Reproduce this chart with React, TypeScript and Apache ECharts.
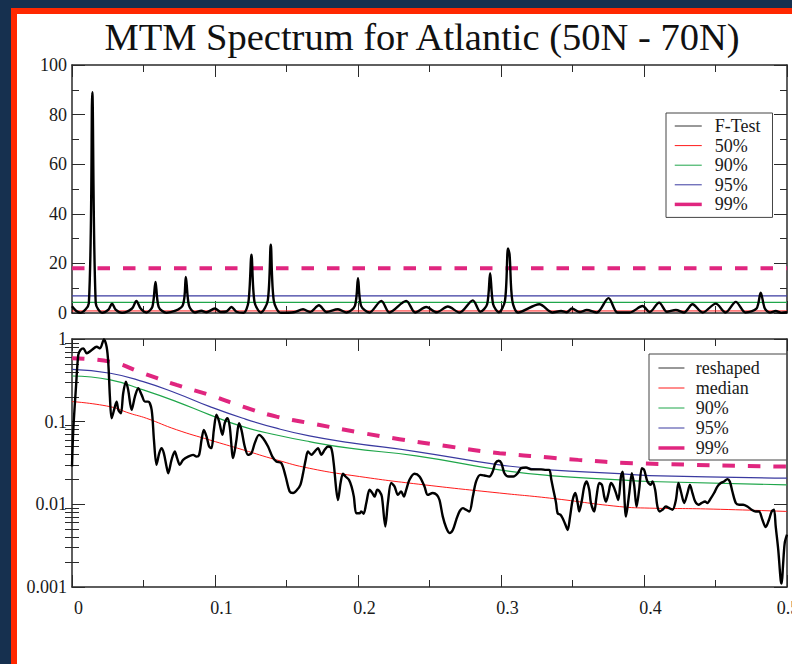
import React, { useEffect, useRef } from "react";
import * as echarts from "echarts";

// ---------- data ----------
const titleText = "MTM Spectrum for Atlantic (50N - 70N)";
const xTicks = [0, 0.1, 0.2, 0.3, 0.4, 0.5];

// F-test, [frequency, value]
const fTest: number[][] = [
  [0, 2.7], [0.003, 0.8], [0.006, 0.1],
  [0.0118, 4], [0.0142, 89], [0.0166, 4], [0.021, 0.1],
  [0.0255, 1.4], [0.028, 3.8], [0.0305, 1.4], [0.035, 0.1],
  [0.042, 1.8], [0.045, 4.9], [0.048, 1.8], [0.052, 0.2],
  [0.0562, 2.5], [0.0584, 12.5], [0.0606, 2.5], [0.066, 0.1],
  [0.0774, 3], [0.0796, 14.5], [0.0818, 3], [0.086, 0.2],
  [0.0905, 0.9], [0.094, 0.3], [0.0999, 1.8], [0.104, 0.4], [0.108, 0.6],
  [0.1115, 2.4], [0.115, 0.5], [0.12, 0.1],
  [0.1234, 4.5], [0.1255, 23.5], [0.1276, 4.5], [0.132, 0.2],
  [0.1369, 5], [0.139, 27.5], [0.1411, 5], [0.146, 0.1],
  [0.155, 0.3], [0.1616, 1.5], [0.1665, 0.4], [0.1727, 3.1], [0.178, 0.4],
  [0.186, 1.5], [0.192, 0.2],
  [0.1979, 3], [0.2, 14], [0.2021, 3], [0.208, 0.2],
  [0.2163, 4.9], [0.222, 0.2], [0.2337, 4.9], [0.24, 0.2],
  [0.2477, 2.4], [0.255, 0.3], [0.2628, 2.6], [0.271, 0.2],
  [0.2803, 5.1], [0.2855, 0.5], [0.2903, 3.5], [0.2924, 16], [0.2945, 3.5], [0.2985, 0.3],
  [0.3028, 5], [0.3049, 26], [0.306, 23.5], [0.3079, 5], [0.312, 0.2],
  [0.3268, 3.5], [0.336, 0.2], [0.342, 0.8], [0.346, 0.3], [0.3496, 1.8], [0.355, 0.4],
  [0.36, 1.2], [0.367, 0.2], [0.3752, 6], [0.3815, 0.2], [0.39, 0.2],
  [0.399, 2.8], [0.404, 0.4], [0.4106, 4.2], [0.416, 0.5], [0.4223, 1.2], [0.428, 0.2],
  [0.4339, 3.5], [0.441, 0.2], [0.4502, 3.8], [0.457, 0.2], [0.4642, 4.5], [0.471, 0.2],
  [0.4787, 1.8], [0.4816, 8.2], [0.4845, 1.8], [0.488, 0.2], [0.4921, 0.8], [0.496, 0.1], [0.5, 0.3],
];

// F-test confidence levels
const fLevel50 = 0.83;
const fLevel90 = 4.32;
const fLevel95 = 6.94;
const fLevel99 = 18.0;

// reshaped spectrum, [frequency, power]
const reshaped: number[][] = [
  [0, 0.0287], [0.0009, 0.0796], [0.0028, 0.265], [0.0044, 0.641], [0.0059, 0.736],
  [0.0079, 0.771], [0.0103, 0.672], [0.0138, 0.736], [0.0172, 0.807], [0.0196, 0.771],
  [0.0223, 0.99], [0.0242, 0.807], [0.0254, 0.508], [0.0265, 0.201], [0.0277, 0.11],
  [0.03, 0.152], [0.0312, 0.175], [0.0324, 0.139], [0.0342, 0.126], [0.0358, 0.221],
  [0.0377, 0.305], [0.0393, 0.242], [0.0417, 0.139], [0.044, 0.201], [0.0463, 0.254],
  [0.0487, 0.211], [0.051, 0.175], [0.0533, 0.175], [0.0557, 0.139], [0.0573, 0.0603],
  [0.0591, 0.0301], [0.061, 0.0416], [0.0626, 0.0478], [0.0642, 0.0416], [0.0661, 0.0287],
  [0.0673, 0.0238], [0.0696, 0.0345], [0.0719, 0.0435], [0.0735, 0.0362], [0.0754, 0.0301],
  [0.0777, 0.0345], [0.0812, 0.0378], [0.0847, 0.0397], [0.0871, 0.0378], [0.0889, 0.0397],
  [0.0906, 0.0603], [0.0922, 0.0796], [0.0941, 0.066], [0.0959, 0.05], [0.0975, 0.0478],
  [0.0992, 0.0796], [0.101, 0.121], [0.1029, 0.1], [0.1052, 0.0692], [0.1068, 0.0958],
  [0.1087, 0.11], [0.1103, 0.0872], [0.1127, 0.0362], [0.115, 0.0603], [0.1168, 0.0958],
  [0.1185, 0.0796], [0.1208, 0.05], [0.1231, 0.0397], [0.1255, 0.0416], [0.1278, 0.055],
  [0.1308, 0.0692], [0.1336, 0.063], [0.1371, 0.05], [0.1401, 0.0378], [0.1429, 0.033],
  [0.1464, 0.0315], [0.1494, 0.0217], [0.1522, 0.0143], [0.1546, 0.0137], [0.1574, 0.015],
  [0.1597, 0.0172], [0.1616, 0.0238], [0.1634, 0.0345], [0.165, 0.0435], [0.1674, 0.0397],
  [0.1697, 0.0435], [0.172, 0.0478], [0.1744, 0.0397], [0.1767, 0.0456], [0.179, 0.05],
  [0.1813, 0.0478], [0.183, 0.0315], [0.1848, 0.015], [0.186, 0.0113], [0.1878, 0.0181],
  [0.1895, 0.0234], [0.1913, 0.0217], [0.1937, 0.0198], [0.1955, 0.0164], [0.1971, 0.0124],
  [0.1988, 0.0078], [0.2011, 0.0078], [0.2023, 0.0082], [0.2039, 0.0077], [0.2058, 0.0104],
  [0.2081, 0.015], [0.21, 0.0137], [0.2116, 0.0124], [0.2135, 0.015], [0.2151, 0.0143],
  [0.2167, 0.0124], [0.2191, 0.0054], [0.2209, 0.0104], [0.2232, 0.0181], [0.2256, 0.0164],
  [0.2279, 0.013], [0.2302, 0.0143], [0.2321, 0.0124], [0.2337, 0.015], [0.236, 0.0198],
  [0.2395, 0.0234], [0.243, 0.0217], [0.2465, 0.0164], [0.2488, 0.013], [0.2523, 0.0137],
  [0.2551, 0.013], [0.257, 0.0113], [0.2593, 0.0071], [0.2617, 0.0052], [0.264, 0.0045],
  [0.2663, 0.0049], [0.2687, 0.0065], [0.271, 0.0082], [0.2733, 0.009], [0.2756, 0.0086],
  [0.2779, 0.0082], [0.2803, 0.0124], [0.2826, 0.0189], [0.2856, 0.0227], [0.2884, 0.0223],
  [0.2919, 0.0217], [0.2942, 0.0249], [0.2961, 0.0315], [0.2984, 0.0336], [0.3003, 0.0315],
  [0.3024, 0.0238], [0.3054, 0.0217], [0.3087, 0.0217], [0.3117, 0.0238], [0.314, 0.0274],
  [0.3175, 0.0279], [0.321, 0.0265], [0.3245, 0.0265], [0.328, 0.0265], [0.3315, 0.0261],
  [0.3338, 0.0261], [0.3352, 0.0198], [0.3366, 0.015], [0.3385, 0.0104], [0.3396, 0.0078],
  [0.3415, 0.0075], [0.3431, 0.0068], [0.345, 0.0057], [0.3466, 0.0049], [0.3483, 0.0071],
  [0.3501, 0.0113], [0.352, 0.0137], [0.3536, 0.0104], [0.3547, 0.0082], [0.3566, 0.0113],
  [0.3582, 0.0164], [0.3599, 0.0189], [0.3617, 0.015], [0.3629, 0.0104], [0.3652, 0.0082],
  [0.3668, 0.0124], [0.3687, 0.0181], [0.3706, 0.0172], [0.3722, 0.0124], [0.3734, 0.0108],
  [0.3752, 0.0137], [0.3769, 0.0181], [0.3787, 0.0164], [0.3804, 0.0137], [0.382, 0.0113],
  [0.3839, 0.0217], [0.385, 0.0249], [0.3874, 0.0071], [0.3897, 0.0137], [0.3915, 0.0238],
  [0.3931, 0.0172], [0.3948, 0.0094], [0.3966, 0.015], [0.3985, 0.0274], [0.4001, 0.0261],
  [0.4024, 0.0189], [0.4048, 0.0172], [0.4059, 0.0189], [0.4078, 0.015], [0.4094, 0.0094],
  [0.4111, 0.0082], [0.4129, 0.0086], [0.4153, 0.0094], [0.4176, 0.009], [0.4199, 0.0086],
  [0.4223, 0.0113], [0.4241, 0.0181], [0.4258, 0.0143], [0.4281, 0.0104], [0.4304, 0.0137],
  [0.4321, 0.0172], [0.4339, 0.0137], [0.4358, 0.0108], [0.4381, 0.0099], [0.4404, 0.0104],
  [0.4427, 0.0108], [0.4443, 0.0104], [0.4467, 0.0118], [0.449, 0.0137], [0.4513, 0.0164],
  [0.4537, 0.0181], [0.456, 0.0189], [0.4583, 0.0202], [0.46, 0.0189], [0.4618, 0.0143],
  [0.4642, 0.0104], [0.4665, 0.0099], [0.4693, 0.0099], [0.4723, 0.0094], [0.4753, 0.0086],
  [0.4781, 0.0082], [0.4804, 0.0082], [0.4828, 0.0065], [0.4851, 0.0053], [0.4874, 0.0065],
  [0.4893, 0.0082], [0.4909, 0.0086], [0.4921, 0.0054], [0.4939, 0.0028], [0.4956, 0.0012],
  [0.4963, 0.0011], [0.4972, 0.0018], [0.4984, 0.0034], [0.5, 0.0043],
];

// background spectrum confidence curves, [frequency, power]
const median: number[][] = [
  [0, 0.175], [0.0265, 0.152], [0.0405, 0.126], [0.052, 0.11], [0.073, 0.08], [0.0964, 0.06],
  [0.1195, 0.0457], [0.143, 0.0345], [0.166, 0.0273], [0.201, 0.0217], [0.2465, 0.0172],
  [0.299, 0.0137], [0.334, 0.0119], [0.3827, 0.0094], [0.4036, 0.009], [0.443, 0.0088], [0.5, 0.0082],
];
const conf90: number[][] = [
  [0, 0.357], [0.0268, 0.32], [0.0498, 0.242], [0.073, 0.175], [0.0964, 0.121], [0.1195, 0.087],
  [0.143, 0.069], [0.166, 0.0574], [0.194, 0.0478], [0.2407, 0.0386], [0.2989, 0.0261],
  [0.3338, 0.0223], [0.3827, 0.0198], [0.4036, 0.0189], [0.5, 0.0172],
];
const conf95: number[][] = [
  [0, 0.43], [0.0268, 0.385], [0.0498, 0.305], [0.073, 0.221], [0.0964, 0.152], [0.1195, 0.11],
  [0.143, 0.0834], [0.166, 0.0673], [0.194, 0.0559], [0.2407, 0.0435], [0.2989, 0.03],
  [0.3338, 0.0261], [0.3827, 0.0235], [0.4036, 0.0223], [0.5, 0.0207],
];
const conf99: number[][] = [
  [0, 0.585], [0.0265, 0.532], [0.0498, 0.385], [0.0731, 0.278], [0.0964, 0.21], [0.1196, 0.152],
  [0.143, 0.115], [0.1662, 0.096], [0.2011, 0.074], [0.229, 0.0614], [0.264, 0.05],
  [0.299, 0.0416], [0.334, 0.0368], [0.354, 0.0345], [0.392, 0.0315], [0.5, 0.0286],
];

// ---------- styling ----------
const SERIF = "Liberation Serif, Times New Roman, serif";
const AX = "#2a2a2a";
const RED = "#ff1a1a";
const GREEN = "#1fa64a";
const BLUE = "#3a3aa0";
const MAGENTA = "#e0267f";
const DASH = [12.5, 13];

const level = (v: number) => [[0, v], [0.5, v]];

const labelFont = { fontFamily: SERIF, fontSize: 18, color: "#1a1a1a" };

const xAxisBase = (gridIndex: number, position: string, labels: boolean) => ({
  type: "value",
  gridIndex,
  position,
  min: 0,
  max: 0.5,
  interval: 0.1,
  axisLine: { show: true, onZero: false, lineStyle: { color: AX, width: 1.5 } },
  axisTick: { show: true, inside: true, length: 12, lineStyle: { color: AX, width: 1 } },
  minorTick: { show: true, splitNumber: 2, length: 7, lineStyle: { color: AX, width: 1 } },
  splitLine: { show: false },
  axisLabel: {
    show: labels,
    ...labelFont,
    margin: 12,
    formatter: (v: number) => {
      const t = Math.round(v * 10) / 10;
      if (!xTicks.includes(t)) return "";
      return t === 0.5 ? `{e|${t}}` : `{n|${t}}`;
    },
    rich: {
      n: { ...labelFont, padding: [0, 0, 0, 13] },
      e: { ...labelFont, padding: [0, 0, 0, 2] },
    },
  },
});

const minorLogTicks: number[] = [];
for (let d = -3; d < 0; d++) for (let k = 2; k <= 9; k++) minorLogTicks.push(d + Math.log10(k));

const option: any = {
  animation: false,
  title: {
    text: titleText,
    left: 422,
    top: 17,
    textAlign: "center",
    padding: 0,
    textStyle: { fontFamily: SERIF, fontSize: 38.5, fontWeight: "normal", color: "#111" },
  },
  grid: [
    { left: 72, top: 65, width: 715, height: 248, outerBoundsMode: "none", containLabel: false },
    { left: 72, top: 339, width: 715, height: 248, outerBoundsMode: "none", containLabel: false },
  ],
  xAxis: [
    xAxisBase(0, "bottom", false),
    xAxisBase(1, "bottom", true),
    xAxisBase(0, "top", false),
    xAxisBase(1, "top", false),
  ],
  yAxis: [
    {
      type: "value", gridIndex: 0, position: "left", min: 0, max: 100, interval: 20,
      axisLine: { show: true, onZero: false, lineStyle: { color: AX, width: 1.5 } },
      axisTick: { show: true, inside: true, length: 13, lineStyle: { color: AX, width: 1 } },
      minorTick: { show: true, splitNumber: 2, length: 7, lineStyle: { color: AX, width: 1 } },
      splitLine: { show: false },
      axisLabel: { ...labelFont, margin: 5 },
    },
    {
      type: "value", gridIndex: 0, position: "right", min: 0, max: 100, interval: 20,
      axisLine: { show: true, onZero: false, lineStyle: { color: AX, width: 1.5 } },
      axisTick: { show: true, inside: true, length: 13, lineStyle: { color: AX, width: 1 } },
      minorTick: { show: true, splitNumber: 2, length: 7, lineStyle: { color: AX, width: 1 } },
      splitLine: { show: false },
      axisLabel: { show: false },
    },
    {
      type: "log", logBase: 10, gridIndex: 1, position: "left", min: 0.001, max: 1,
      axisLine: { show: true, onZero: false, lineStyle: { color: AX, width: 1.5 } },
      axisTick: { show: true, inside: true, length: 13, lineStyle: { color: AX, width: 1 } },
      splitLine: { show: false },
      axisLabel: { ...labelFont, margin: 5, padding: [9, 0, 0, 0] },
    },
    {
      type: "log", logBase: 10, gridIndex: 1, position: "right", min: 0.001, max: 1,
      axisLine: { show: true, onZero: false, lineStyle: { color: AX, width: 1.5 } },
      axisTick: { show: true, inside: true, length: 13, lineStyle: { color: AX, width: 1 } },
      splitLine: { show: false },
      axisLabel: { show: false },
    },
    {
      type: "value", gridIndex: 1, position: "left", min: -3, max: 0,
      axisLine: { show: false },
      axisTick: { show: true, inside: true, length: 7, customValues: minorLogTicks, lineStyle: { color: AX, width: 1 } },
      splitLine: { show: false },
      axisLabel: { show: false },
    },
    {
      type: "value", gridIndex: 1, position: "right", min: -3, max: 0,
      axisLine: { show: false },
      axisTick: { show: true, inside: true, length: 7, customValues: minorLogTicks, lineStyle: { color: AX, width: 1 } },
      splitLine: { show: false },
      axisLabel: { show: false },
    },
  ],
  legend: [
    {
      orient: "vertical",
      left: 666,
      top: 113,
      padding: [4, 12, 4, 7],
      itemGap: 1.6,
      itemWidth: 27,
      itemHeight: 14,
      borderColor: "#444",
      borderWidth: 1,
      backgroundColor: "#fff",
      itemStyle: { opacity: 0 },
      textStyle: { ...labelFont, lineHeight: 18, padding: [0, 0, 0, 8] },
      data: [
        { name: "F-Test", lineStyle: { width: 1, color: "#333" } },
        { name: "50%", lineStyle: { width: 1 } },
        { name: "90%", lineStyle: { width: 1 } },
        { name: "95%", lineStyle: { width: 1 } },
        { name: "99%", lineStyle: { width: 3.5, type: "solid" } },
      ],
    },
    {
      orient: "vertical",
      left: 649,
      top: 354,
      padding: [5, 27, 3, 7.7],
      itemGap: 2,
      itemWidth: 26,
      itemHeight: 14,
      borderColor: "#444",
      borderWidth: 1,
      backgroundColor: "#fff",
      itemStyle: { opacity: 0 },
      textStyle: { ...labelFont, lineHeight: 18, padding: [0, 0, 0, 6.3] },
      data: [
        { name: "reshaped", lineStyle: { width: 1, color: "#333" } },
        { name: "median", lineStyle: { width: 1 } },
        { name: "90%", lineStyle: { width: 1 } },
        { name: "95%", lineStyle: { width: 1 } },
        { name: "99%", lineStyle: { width: 3.5, type: "solid" } },
      ],
    },
  ],
  series: [
    { name: "50%", type: "line", xAxisIndex: 0, yAxisIndex: 0, data: level(fLevel50), symbol: "none", color: RED, lineStyle: { color: RED, width: 1 }, z: 2 },
    { name: "90%", type: "line", xAxisIndex: 0, yAxisIndex: 0, data: level(fLevel90), symbol: "none", color: GREEN, lineStyle: { color: GREEN, width: 1.2 }, z: 2 },
    { name: "95%", type: "line", xAxisIndex: 0, yAxisIndex: 0, data: level(fLevel95), symbol: "none", color: BLUE, lineStyle: { color: BLUE, width: 1.2 }, z: 2 },
    { name: "99%", type: "line", xAxisIndex: 0, yAxisIndex: 0, data: level(fLevel99), symbol: "none", color: MAGENTA, lineStyle: { color: MAGENTA, width: 4, type: DASH }, z: 2 },
    { name: "F-Test", type: "line", xAxisIndex: 0, yAxisIndex: 0, data: fTest, symbol: "none", smooth: 0.3, color: "#000", lineStyle: { color: "#000", width: 2.4 }, z: 3 },

    { name: "median", type: "line", xAxisIndex: 1, yAxisIndex: 2, data: median, symbol: "none", smooth: true, color: RED, lineStyle: { color: RED, width: 1 }, z: 2 },
    { name: "90%", type: "line", xAxisIndex: 1, yAxisIndex: 2, data: conf90, symbol: "none", smooth: true, color: GREEN, lineStyle: { color: GREEN, width: 1.2 }, z: 2 },
    { name: "95%", type: "line", xAxisIndex: 1, yAxisIndex: 2, data: conf95, symbol: "none", smooth: true, color: BLUE, lineStyle: { color: BLUE, width: 1.2 }, z: 2 },
    { name: "99%", type: "line", xAxisIndex: 1, yAxisIndex: 2, data: conf99, symbol: "none", smooth: true, color: MAGENTA, lineStyle: { color: MAGENTA, width: 4, type: DASH }, z: 2 },
    { name: "reshaped", type: "line", xAxisIndex: 1, yAxisIndex: 2, data: reshaped, symbol: "none", smooth: 0.3, color: "#000", lineStyle: { color: "#000", width: 2.4 }, z: 3 },
  ],
};

export default function App() {
  const ref = useRef<HTMLDivElement>(null);
  useEffect(() => {
    document.body.style.margin = "0";
    const chart = echarts.init(ref.current as HTMLDivElement, null, { renderer: "svg", width: 792, height: 664 });
    chart.setOption(option);
    return () => chart.dispose();
  }, []);
  return (
    <div style={{ position: "fixed", left: 0, top: 0, width: 792, height: 664, overflow: "hidden", background: "#16304f" }}>
      <div style={{ position: "absolute", left: 11, top: 8, right: -20, bottom: -20, background: "#ff2800" }} />
      <div style={{ position: "absolute", left: 17, top: 14, right: -20, bottom: -20, background: "#ffffff" }} />
      <div ref={ref} style={{ position: "absolute", left: 0, top: 0, width: 792, height: 664 }} />
    </div>
  );
}
